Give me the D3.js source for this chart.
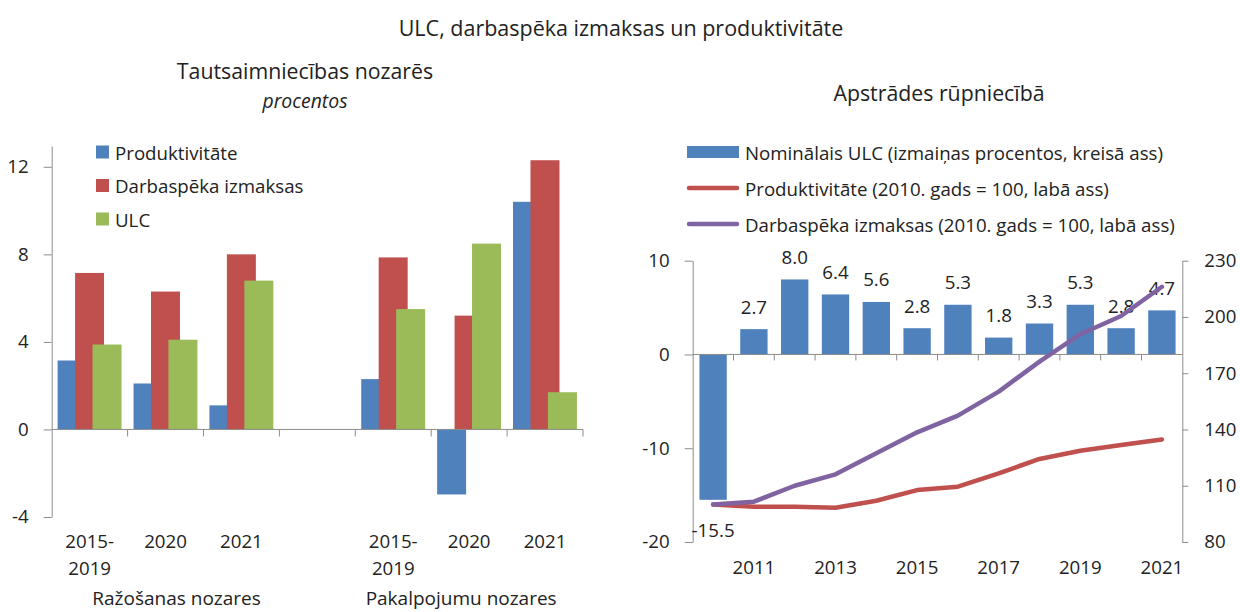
<!DOCTYPE html>
<html>
<head>
<meta charset="utf-8">
<script src="https://cdn.jsdelivr.net/npm/d3@7"></script>
<style>
  body { margin: 0; background: #fff; }
  svg text { font-family: "Open Sans", sans-serif; fill: #222; }
</style>
</head>
<body>
<div id="chart"></div>
<script>
const width = 1240;
const height = 612;

// left panel data (percent)
const leftCategories = ["2015-2019", "2020", "2021", "", "2015-2019", "2020", "2021"];
const leftTickLabels = [["2015-", "2019"], ["2020"], ["2021"], [], ["2015-", "2019"], ["2020"], ["2021"]];
const leftGroups = ["Ražošanas nozares", "Pakalpojumu nozares"];
const productivity = [3.15, 2.1, 1.1, null, 2.3, -2.97, 10.4];
const labourCosts = [7.15, 6.3, 8.0, null, 7.86, 5.2, 12.3];
const ulc = [3.88, 4.1, 6.8, null, 5.5, 8.49, 1.7];
const leftSeriesNames = ["Produktivitāte", "Darbaspēka izmaksas", "ULC"];
const leftTicks = [-4, 0, 4, 8, 12];

// right panel data
const years = [2010, 2011, 2012, 2013, 2014, 2015, 2016, 2017, 2018, 2019, 2020, 2021];
const yearTickLabels = [2011, 2013, 2015, 2017, 2019, 2021];
const ulcChange = [-15.5, 2.7, 8.0, 6.4, 5.6, 2.8, 5.3, 1.8, 3.3, 5.3, 2.8, 4.7];
const productivityIndex = [100, 98.8, 98.8, 98.3, 102, 107.7, 109.5, 116.6, 124.3, 128.7, 131.7, 134.7];
const labourIndex = [100, 101.5, 110, 116.1, 127.3, 138.5, 147.4, 160.2, 176.2, 190.8, 200.5, 216.1];
const rightSeriesNames = [
    "Nominālais ULC (izmaiņas procentos, kreisā ass)",
    "Produktivitāte (2010. gads = 100, labā ass)",
    "Darbaspēka izmaksas (2010. gads = 100, labā ass)"
];
const rightLeftTicks = [-20, -10, 0, 10];
const rightRightTicks = [80, 110, 140, 170, 200, 230];

const colors = {blue: "#4f81bd", red: "#c0504d", green: "#9bbb59", purple: "#8064a2"};
const axisColor = "#8c8c8c";
const fontSize = 18.7;

const svg = d3.create("svg")
    .attr("width", width)
    .attr("height", height);

// titles
svg.append("text")
    .attr("x", 621).attr("y", 27)
    .attr("text-anchor", "middle").attr("dominant-baseline", "central")
    .attr("font-size", "21.5px")
    .text("ULC, darbaspēka izmaksas un produktivitāte");

svg.append("text")
    .attr("x", 305).attr("y", 70)
    .attr("text-anchor", "middle").attr("dominant-baseline", "central")
    .attr("font-size", "21.3px")
    .text("Tautsaimniecības nozarēs");

svg.append("text")
    .attr("x", 305).attr("y", 100)
    .attr("text-anchor", "middle").attr("dominant-baseline", "central")
    .attr("font-size", "19.4px")
    .attr("font-style", "italic")
    .text("procentos");

svg.append("text")
    .attr("x", 939).attr("y", 92)
    .attr("text-anchor", "middle").attr("dominant-baseline", "central")
    .attr("font-size", "21.3px")
    .text("Apstrādes rūpniecībā");

function styleAxis(g) {
    g.select(".domain").attr("stroke", axisColor);
    g.selectAll(".tick line").attr("stroke", axisColor);
    g.selectAll(".tick text")
        .attr("font-size", fontSize + "px")
        .attr("font-family", "Open Sans, sans-serif")
        .attr("fill", "#222");
}

// plain hyphen for negatives, like the original
const plainFormat = d => String(d);

// ---------- left panel ----------
const xL = d3.scaleBand()
    .domain(d3.range(leftCategories.length))
    .range([51.7, 583]);
const yL = d3.scaleLinear()
    .domain([-4, 12.95])
    .range([517, 146]);

const bw = xL.bandwidth();
const barW = bw * 0.382;
const barStep = bw * 0.23;
const barStart = bw * 0.078;

const leftSeries = [productivity, labourCosts, ulc];
const leftColors = [colors.blue, colors.red, colors.green];

leftSeries.forEach((values, s) => {
    svg.append("g")
        .selectAll("rect")
        .data(values.map((v, i) => ({v, i})).filter(d => d.v !== null))
        .join("rect")
        .attr("x", d => xL(d.i) + barStart + s * barStep)
        .attr("width", barW)
        .attr("y", d => yL(Math.max(0, d.v)))
        .attr("height", d => Math.abs(yL(d.v) - yL(0)))
        .attr("fill", leftColors[s]);
});

// y axis
svg.append("g")
    .attr("transform", `translate(${xL.range()[0]},0)`)
    .call(d3.axisLeft(yL).tickValues(leftTicks).tickFormat(plainFormat)
        .tickSize(8).tickSizeOuter(0).tickPadding(15))
    .call(styleAxis);

// x axis at zero with boundary ticks
const xAxisL = svg.append("g");
xAxisL.append("line")
    .attr("x1", xL.range()[0]).attr("x2", xL.range()[1])
    .attr("y1", yL(0)).attr("y2", yL(0))
    .attr("stroke", axisColor);
xAxisL.selectAll(".bnd")
    .data(d3.range(1, leftCategories.length + 1))
    .join("line")
    .attr("x1", i => i < leftCategories.length ? xL(i) : xL.range()[1])
    .attr("x2", i => i < leftCategories.length ? xL(i) : xL.range()[1])
    .attr("y1", yL(0)).attr("y2", yL(0) + 7)
    .attr("stroke", axisColor);

svg.append("g")
    .selectAll("text")
    .data(leftTickLabels.map((lines, i) => ({lines, i})))
    .join("text")
    .attr("text-anchor", "middle")
    .attr("font-size", fontSize + "px")
    .each(function(d) {
        d3.select(this).selectAll("tspan")
            .data(d.lines)
            .join("tspan")
            .attr("x", xL(d.i) + bw / 2)
            .attr("y", (t, k) => 540 + k * 27.5)
            .attr("dominant-baseline", "central")
            .text(t => t);
    });

svg.append("text")
    .attr("x", xL(1) + bw / 2 + 11).attr("y", 598)
    .attr("text-anchor", "middle").attr("dominant-baseline", "central")
    .attr("font-size", "19px")
    .text(leftGroups[0]);
svg.append("text")
    .attr("x", xL(5) + bw / 2 - 8).attr("y", 598)
    .attr("text-anchor", "middle").attr("dominant-baseline", "central")
    .attr("font-size", "19px")
    .text(leftGroups[1]);

// left legend
const legL = svg.append("g").attr("transform", "translate(96,152)");
leftSeriesNames.forEach((name, i) => {
    const row = legL.append("g").attr("transform", `translate(0,${i * 33.5})`);
    row.append("rect")
        .attr("x", 0).attr("y", -6.5)
        .attr("width", 13).attr("height", 13)
        .attr("fill", leftColors[i]);
    row.append("text")
        .attr("x", 19).attr("y", 0)
        .attr("dominant-baseline", "central")
        .attr("font-size", fontSize + "px")
        .text(name);
});

// ---------- right panel ----------
const xR = d3.scaleBand()
    .domain(years)
    .range([692.7, 1182.3]);
const yRL = d3.scaleLinear()
    .domain([-20, 10])
    .range([542, 260.7]);
const yRR = d3.scaleLinear()
    .domain([80, 230])
    .range([542, 260.7]);
const rbw = xR.bandwidth();

svg.append("g")
    .selectAll("rect")
    .data(years.map((y, i) => ({year: y, v: ulcChange[i]})))
    .join("rect")
    .attr("x", d => xR(d.year) + rbw * 0.165)
    .attr("width", rbw * 0.67)
    .attr("y", d => yRL(Math.max(0, d.v)))
    .attr("height", d => Math.abs(yRL(d.v) - yRL(0)))
    .attr("fill", colors.blue);

svg.append("g")
    .attr("transform", `translate(${xR.range()[0]},0)`)
    .call(d3.axisLeft(yRL).tickValues(rightLeftTicks).tickFormat(plainFormat)
        .tickSize(8).tickSizeOuter(0).tickPadding(15))
    .call(styleAxis);

svg.append("g")
    .attr("transform", `translate(${xR.range()[1]},0)`)
    .call(d3.axisRight(yRR).tickValues(rightRightTicks).tickFormat(plainFormat)
        .tickSize(6).tickSizeOuter(0).tickPadding(16))
    .call(styleAxis);

const xAxisR = svg.append("g");
xAxisR.append("line")
    .attr("x1", xR.range()[0]).attr("x2", xR.range()[1])
    .attr("y1", yRL(0)).attr("y2", yRL(0))
    .attr("stroke", axisColor);
xAxisR.selectAll(".bnd")
    .data(years.slice(1))
    .join("line")
    .attr("x1", y => xR(y)).attr("x2", y => xR(y))
    .attr("y1", yRL(0)).attr("y2", yRL(0) + 6)
    .attr("stroke", axisColor);

svg.append("g")
    .selectAll("text")
    .data(yearTickLabels)
    .join("text")
    .attr("x", y => xR(y) + rbw / 2)
    .attr("y", 566)
    .attr("text-anchor", "middle").attr("dominant-baseline", "central")
    .attr("font-size", fontSize + "px")
    .text(y => y);

// bar value labels
svg.append("g")
    .selectAll("text")
    .data(years.map((y, i) => ({year: y, v: ulcChange[i]})))
    .join("text")
    .attr("x", d => xR(d.year) + rbw / 2)
    .attr("y", d => d.v >= 0 ? yRL(d.v) - 23 : yRL(d.v) + 30)
    .attr("text-anchor", "middle").attr("dominant-baseline", "central")
    .attr("font-size", fontSize + "px")
    .text(d => d.v.toFixed(1));

// lines
const line = d3.line()
    .x((d, i) => xR(years[i]) + rbw / 2)
    .y(d => yRR(d));

svg.append("path")
    .datum(productivityIndex)
    .attr("d", line)
    .attr("fill", "none")
    .attr("stroke", colors.red)
    .attr("stroke-width", 4.5)
    .attr("stroke-linecap", "round")
    .attr("stroke-linejoin", "round");

svg.append("path")
    .datum(labourIndex)
    .attr("d", line)
    .attr("fill", "none")
    .attr("stroke", colors.purple)
    .attr("stroke-width", 4.5)
    .attr("stroke-linecap", "round")
    .attr("stroke-linejoin", "round");

// right legend
const legR = svg.append("g").attr("transform", "translate(687,152)");
rightSeriesNames.forEach((name, i) => {
    const row = legR.append("g").attr("transform", `translate(0,${i * 36})`);
    if (i === 0) {
        row.append("rect")
            .attr("x", 0).attr("y", -6)
            .attr("width", 52).attr("height", 12)
            .attr("fill", colors.blue);
    } else {
        row.append("line")
            .attr("x1", 2).attr("x2", 50)
            .attr("stroke", i === 1 ? colors.red : colors.purple)
            .attr("stroke-width", 4.5)
            .attr("stroke-linecap", "round");
    }
    row.append("text")
        .attr("x", 58).attr("y", 0)
        .attr("dominant-baseline", "central")
        .attr("font-size", fontSize + "px")
        .text(name);
});

d3.select("#chart").append(() => svg.node());
</script>
</body>
</html>
